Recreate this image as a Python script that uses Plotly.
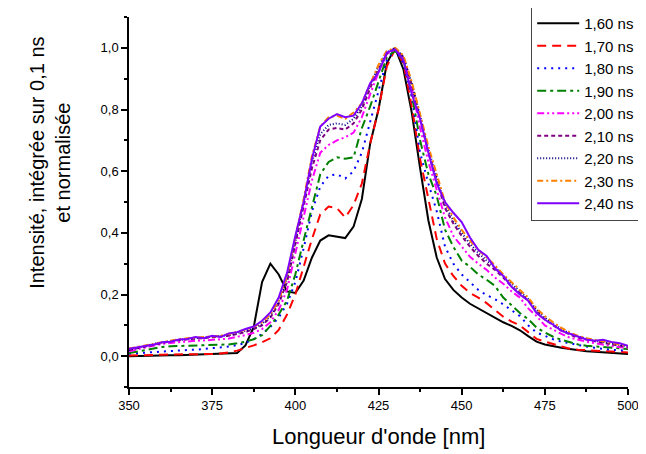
import plotly.graph_objects as go

# wavelength grid (nm), one value every 2.5 nm
wavelength = [350 + 2.5 * i for i in range(61)]

labels = ['1,60 ns', '1,70 ns', '1,80 ns', '1,90 ns', '2,00 ns',
          '2,10 ns', '2,20 ns', '2,30 ns', '2,40 ns']

# normalised intensities
t160 = [0.000, 0.001, 0.001, 0.002, 0.002, 0.003, 0.003, 0.004, 0.004, 0.005,
        0.005, 0.006, 0.008, 0.010, 0.035, 0.095, 0.240, 0.300, 0.265, 0.210,
        0.205, 0.245, 0.320, 0.375, 0.392, 0.388, 0.383, 0.420, 0.510, 0.690,
        0.800, 0.950, 1.000, 0.930, 0.790, 0.610, 0.440, 0.320, 0.250, 0.215,
        0.190, 0.170, 0.155, 0.138, 0.125, 0.110, 0.098, 0.084, 0.065, 0.047,
        0.038, 0.032, 0.027, 0.023, 0.019, 0.016, 0.014, 0.012, 0.010, 0.008,
        0.007]
t170 = [0.002, 0.002, 0.003, 0.004, 0.005, 0.005, 0.005, 0.005, 0.006, 0.006,
        0.007, 0.009, 0.012, 0.018, 0.026, 0.035, 0.045, 0.058, 0.085, 0.135,
        0.200, 0.290, 0.380, 0.460, 0.485, 0.480, 0.450, 0.490, 0.560, 0.690,
        0.800, 0.940, 0.995, 0.950, 0.810, 0.640, 0.510, 0.380, 0.300, 0.260,
        0.228, 0.205, 0.190, 0.172, 0.150, 0.128, 0.112, 0.100, 0.078, 0.056,
        0.047, 0.040, 0.032, 0.024, 0.021, 0.019, 0.017, 0.016, 0.015, 0.014,
        0.012]
t180 = [0.008, 0.010, 0.012, 0.014, 0.016, 0.017, 0.019, 0.020, 0.021, 0.023,
        0.025, 0.028, 0.031, 0.036, 0.043, 0.055, 0.072, 0.095, 0.125, 0.170,
        0.240, 0.350, 0.470, 0.550, 0.585, 0.590, 0.576, 0.600, 0.660, 0.760,
        0.860, 0.960, 0.995, 0.950, 0.840, 0.660, 0.560, 0.470, 0.355, 0.300,
        0.265, 0.240, 0.215, 0.198, 0.185, 0.168, 0.150, 0.130, 0.100, 0.077,
        0.066, 0.055, 0.047, 0.041, 0.036, 0.031, 0.027, 0.023, 0.021, 0.019,
        0.018]
t190 = [0.010, 0.015, 0.020, 0.026, 0.030, 0.032, 0.033, 0.034, 0.035, 0.034,
        0.036, 0.037, 0.038, 0.042, 0.047, 0.055, 0.068, 0.098, 0.135, 0.180,
        0.265, 0.376, 0.484, 0.590, 0.630, 0.645, 0.640, 0.645, 0.740, 0.810,
        0.890, 0.970, 0.990, 0.960, 0.850, 0.700, 0.590, 0.520, 0.410, 0.355,
        0.310, 0.290, 0.265, 0.248, 0.228, 0.190, 0.165, 0.140, 0.120, 0.093,
        0.077, 0.063, 0.053, 0.045, 0.038, 0.034, 0.032, 0.030, 0.028, 0.025,
        0.023]
t200 = [0.016, 0.022, 0.028, 0.034, 0.040, 0.043, 0.046, 0.049, 0.050, 0.051,
        0.053, 0.055, 0.057, 0.063, 0.068, 0.076, 0.088, 0.110, 0.150, 0.215,
        0.330, 0.450, 0.570, 0.660, 0.685, 0.700, 0.710, 0.725, 0.775, 0.850,
        0.920, 0.980, 0.995, 0.970, 0.870, 0.740, 0.630, 0.540, 0.450, 0.390,
        0.355, 0.322, 0.300, 0.280, 0.255, 0.235, 0.210, 0.190, 0.155, 0.130,
        0.100, 0.085, 0.072, 0.060, 0.053, 0.047, 0.042, 0.037, 0.033, 0.029,
        0.027]
t210 = [0.020, 0.026, 0.032, 0.038, 0.044, 0.048, 0.052, 0.055, 0.057, 0.059,
        0.061, 0.063, 0.066, 0.072, 0.078, 0.088, 0.100, 0.125, 0.170, 0.240,
        0.360, 0.480, 0.610, 0.700, 0.735, 0.740, 0.735, 0.755, 0.800, 0.870,
        0.930, 0.980, 1.000, 0.970, 0.880, 0.770, 0.660, 0.570, 0.480, 0.430,
        0.390, 0.355, 0.325, 0.300, 0.280, 0.255, 0.225, 0.205, 0.180, 0.145,
        0.120, 0.100, 0.083, 0.070, 0.060, 0.054, 0.048, 0.043, 0.038, 0.034,
        0.030]
t220 = [0.020, 0.027, 0.034, 0.040, 0.045, 0.050, 0.053, 0.056, 0.058, 0.060,
        0.062, 0.064, 0.068, 0.075, 0.082, 0.090, 0.105, 0.130, 0.175, 0.250,
        0.370, 0.500, 0.630, 0.720, 0.750, 0.755, 0.750, 0.770, 0.810, 0.880,
        0.940, 0.985, 1.000, 0.970, 0.885, 0.780, 0.670, 0.580, 0.490, 0.440,
        0.400, 0.365, 0.335, 0.310, 0.290, 0.260, 0.235, 0.210, 0.185, 0.150,
        0.125, 0.105, 0.088, 0.074, 0.064, 0.057, 0.050, 0.046, 0.041, 0.037,
        0.032]
t230 = [0.025, 0.030, 0.036, 0.042, 0.047, 0.052, 0.055, 0.058, 0.060, 0.062,
        0.064, 0.066, 0.072, 0.078, 0.086, 0.095, 0.110, 0.135, 0.180, 0.260,
        0.380, 0.510, 0.650, 0.745, 0.775, 0.780, 0.770, 0.790, 0.820, 0.885,
        0.945, 0.990, 1.000, 0.975, 0.890, 0.785, 0.680, 0.590, 0.500, 0.450,
        0.410, 0.375, 0.345, 0.320, 0.295, 0.265, 0.240, 0.215, 0.190, 0.155,
        0.130, 0.110, 0.092, 0.077, 0.066, 0.058, 0.052, 0.048, 0.043, 0.038,
        0.033]
t240 = [0.024, 0.028, 0.034, 0.038, 0.045, 0.047, 0.054, 0.056, 0.062, 0.058,
        0.066, 0.062, 0.074, 0.078, 0.088, 0.096, 0.115, 0.142, 0.190, 0.270,
        0.390, 0.500, 0.640, 0.745, 0.770, 0.785, 0.775, 0.780, 0.820, 0.885,
        0.920, 0.985, 0.995, 0.960, 0.850, 0.770, 0.660, 0.560, 0.500, 0.465,
        0.435, 0.385, 0.345, 0.325, 0.285, 0.260, 0.225, 0.200, 0.180, 0.140,
        0.118, 0.102, 0.082, 0.073, 0.062, 0.054, 0.050, 0.053, 0.046, 0.042,
        0.034]

series = [t160, t170, t180, t190, t200, t210, t220, t230, t240]
colors = ['#000000', '#FF0000', '#0000FF', '#008000', '#FF00FF',
          '#800080', '#000080', '#FF8000', '#8000FF']
dashes = ['solid', '9px,6px', '2px,5px', '9px,4px,3px,4px',
          '7px,3px,2px,3px,2px,3px', '4px,3px', '1px,2px',
          '6px,3px,2px,3px', 'solid']

fig = go.Figure()
for lab, ys, col, d in zip(labels, series, colors, dashes):
    fig.add_trace(go.Scatter(x=wavelength, y=ys, mode='lines', name=lab,
                             line=dict(color=col, width=2, dash=d)))

# the page body has an 8px margin, so the figure is 8px smaller and
# its left/top margins are reduced by the same amount
font = 'Liberation Sans, Arial, sans-serif'
fig.update_layout(
    width=638, height=446,
    margin=dict(l=121, r=18, t=9, b=67, autoexpand=False),
    paper_bgcolor='white', plot_bgcolor='white',
    separators=', ',
    font=dict(family=font, color='black'),
    showlegend=True,
    legend=dict(x=0.806, y=1.03, xanchor='left', yanchor='top',
                bgcolor='white', bordercolor='#444', borderwidth=1,
                font=dict(size=15, family=font), itemwidth=42,
                tracegroupgap=0),
    annotations=[
        dict(text='Intensité, intégrée sur 0,1 ns<br>et normalisée',
             xref='paper', yref='paper', x=-0.159, y=0.605,
             xanchor='center', yanchor='middle', textangle=-90,
             showarrow=False, font=dict(size=20, family=font)),
        dict(text="Longueur d'onde [nm]", xref='paper', yref='paper',
             x=0.5, y=-0.135, xanchor='center', yanchor='middle',
             showarrow=False, font=dict(size=22, family=font)),
    ],
)

fig.update_xaxes(range=[350, 500], tick0=350, dtick=25, showgrid=False,
                 zeroline=False, showline=True, linecolor='black', linewidth=1.5,
                 ticks='outside', ticklen=6, tickwidth=1.5, tickcolor='black',
                 tickfont=dict(size=13),
                 minor=dict(ticks='outside', ticklen=3, dtick=12.5,
                            tickcolor='black', tickwidth=1.5))
fig.update_yaxes(range=[-0.1, 1.1], tick0=0, dtick=0.2, tickformat='.1f',
                 showgrid=False, zeroline=False, showline=True,
                 linecolor='black', linewidth=1.5,
                 ticks='outside', ticklen=6, tickwidth=1.5, tickcolor='black',
                 tickfont=dict(size=13),
                 minor=dict(ticks='outside', ticklen=3, dtick=0.1,
                            tickcolor='black', tickwidth=1.5))

fig.write_html('out.html')
